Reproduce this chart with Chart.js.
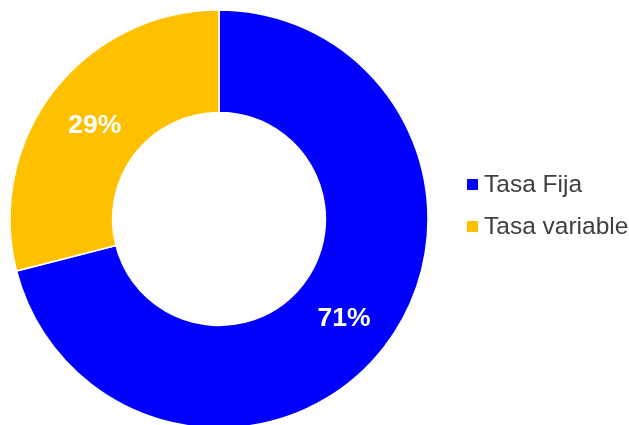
<!DOCTYPE html>
<html><head><meta charset="utf-8">
<script src="https://cdn.jsdelivr.net/npm/chart.js@4/dist/chart.umd.min.js"></script>
<style>html,body{margin:0;padding:0;background:#fff;overflow:hidden}#wrap{width:629px;height:425px;position:relative}</style>
</head><body><div id="wrap"><canvas id="c" width="629" height="425"></canvas></div>
<script>
const categories = ["Tasa Fija", "Tasa variable"];
const values = [71, 29];
const colors = ["#0000FF", "#FFC000"];

const labelPlugin = {
  id: 'lbls',
  afterDatasetsDraw(chart) {
    const ctx = chart.ctx;
    const meta = chart.getDatasetMeta(0);
    const total = values.reduce((a, b) => a + b, 0);
    ctx.save();
    ctx.font = 'bold 26.5px "Liberation Sans", Arial, sans-serif';
    ctx.fillStyle = '#FFFFFF';
    ctx.textAlign = 'center';
    ctx.textBaseline = 'middle';
    meta.data.forEach((arc, i) => {
      const p = arc.tooltipPosition();
      ctx.fillText(Math.round(values[i] / total * 100) + '%', p.x + 0.5, p.y + 3);
    });
    ctx.restore();
  }
};
const legendPlugin = {
  id: 'lg',
  afterDraw(chart) {
    const ctx = chart.ctx;
    ctx.save();
    ctx.font = '24.5px "Liberation Sans", Arial, sans-serif';
    ctx.textBaseline = 'alphabetic';
    ctx.textAlign = 'left';
    const ys = [192, 234];
    categories.forEach((c, i) => {
      ctx.fillStyle = colors[i];
      ctx.fillRect(467, ys[i] - 13, 11, 11);
      ctx.fillStyle = '#404040';
      ctx.fillText(c, 484, ys[i]);
    });
    ctx.restore();
  }
};

new Chart(document.getElementById('c'), {
  type: 'doughnut',
  data: {
    labels: categories,
    datasets: [{
      data: values,
      backgroundColor: colors,
      borderColor: '#FFFFFF',
      borderWidth: 1.5
    }]
  },
  options: {
    responsive: false,
    animation: false,
    radius: 209,
    cutout: 104.5,
    layout: { padding: { left: 10, right: 201, top: 13, bottom: 0 } },
    plugins: { legend: { display: false }, tooltip: { enabled: false } }
  },
  plugins: [labelPlugin, legendPlugin]
});
</script></body></html>
